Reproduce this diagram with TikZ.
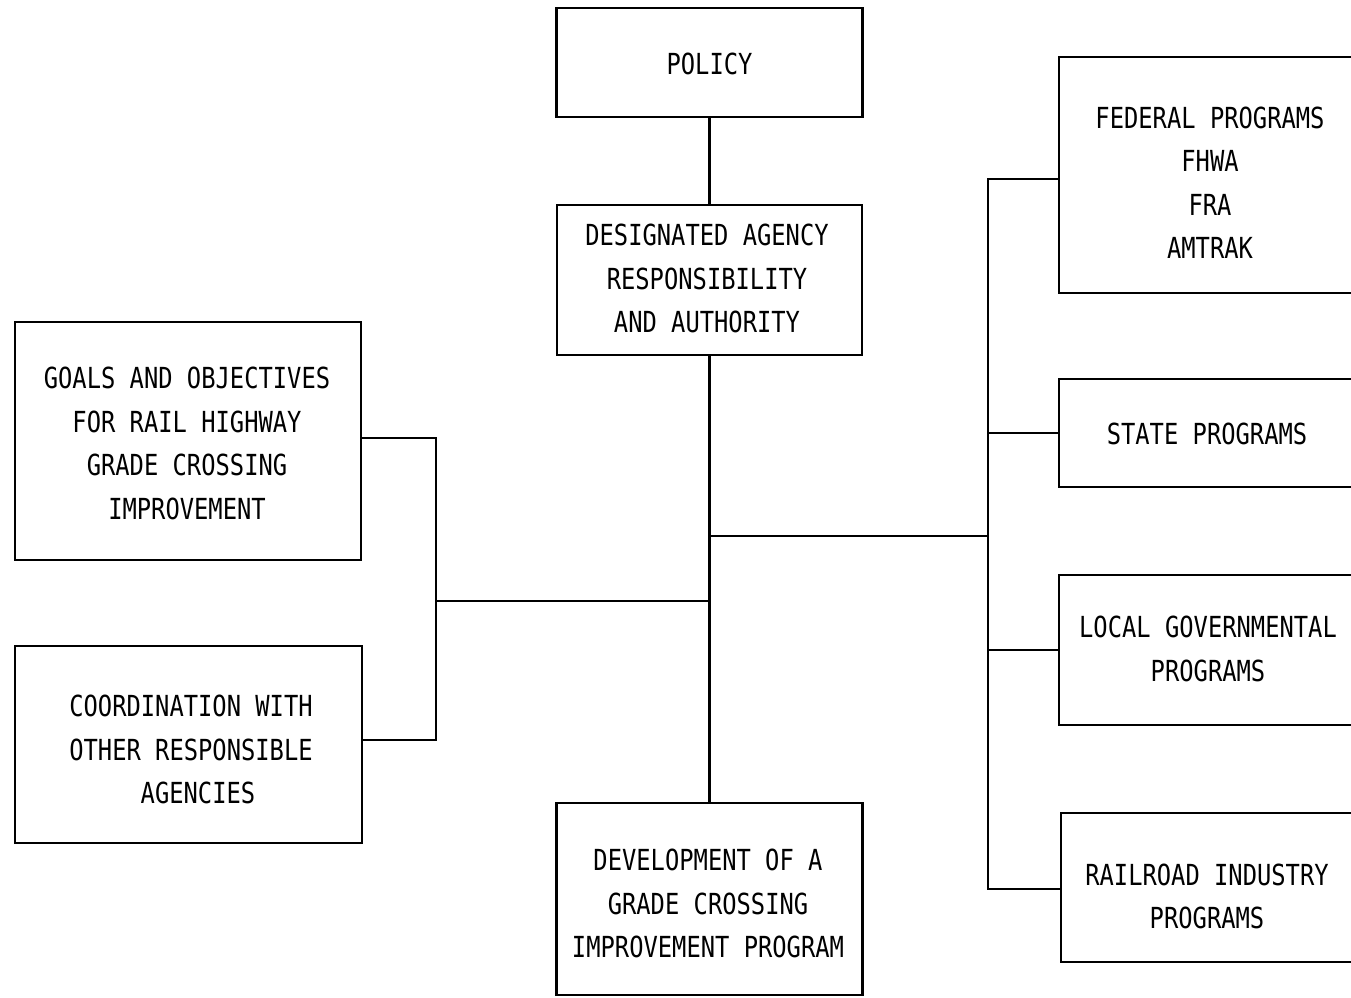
\documentclass[tikz,border=0pt]{standalone}
\usepackage{fontspec}
\newfontfamily\diafont[FakeStretch=0.82]{DejaVu Sans Mono}
\begin{document}
\begin{tikzpicture}[x=1pt,y=-1pt,
  box/.style={draw, line width=2.6pt, inner sep=0pt, outer sep=0pt},
  txt/.style={inner sep=0pt, align=center, font=\diafont\fontsize{29}{43.5}\selectfont},
  link/.style={line width=2.6pt}]
\useasboundingbox (0,0) rectangle (1351,997);
\clip (0,0) rectangle (1351,997);
% boxes
\node[box, minimum width=306pt, minimum height=109pt] (policy) at (709.5,62.5) {};
\node[box, minimum width=305pt, minimum height=150pt] (desig) at (709.5,280) {};
\node[box, minimum width=306pt, minimum height=192pt] (dev) at (709.5,899) {};
\node[box, minimum width=346pt, minimum height=238pt] (goals) at (188,441) {};
\node[box, minimum width=347pt, minimum height=197pt] (coord) at (188.5,744.5) {};
\node[box, minimum width=298pt, minimum height=236pt] (fed) at (1208,175) {};
\node[box, minimum width=298pt, minimum height=108pt] (state) at (1208,433) {};
\node[box, minimum width=298pt, minimum height=150pt] (local) at (1208,650) {};
\node[box, minimum width=298pt, minimum height=149pt] (rail) at (1210,887.5) {};
% texts
\node[txt] (policyt) at (709.5,64) {POLICY};
\node[txt] (desigt) at (707,278.5) {DESIGNATED AGENCY\\RESPONSIBILITY\\AND AUTHORITY};
\node[txt] (devt) at (708,903.5) {DEVELOPMENT OF A\\GRADE CROSSING\\IMPROVEMENT PROGRAM};
\node[txt] (goalst) at (187,443.5) {GOALS AND OBJECTIVES\\FOR RAIL HIGHWAY\\GRADE CROSSING\\IMPROVEMENT};
\node[txt] (coordt) at (191,749.5) {COORDINATION WITH\\OTHER RESPONSIBLE\\\hspace*{14pt}AGENCIES};
\node[txt] (fedt) at (1210,182.5) {FEDERAL PROGRAMS\\FHWA\\FRA\\AMTRAK};
\node[txt] (statet) at (1207,434) {STATE PROGRAMS};
\node[txt] (localt) at (1208,649) {LOCAL GOVERNMENTAL\\PROGRAMS};
\node[txt] (railt) at (1207,896.5) {RAILROAD INDUSTRY\\PROGRAMS};
% connectors
\coordinate (lj) at (436,601);
\coordinate (rj) at (988,536);
\draw[link] (policy.south) -- (desig.north);
\draw[link] (desig.south) -- (dev.north);
\draw[link] ([yshift=3pt]goals.east) -| (lj) |- ([yshift=4.5pt]coord.east);
\draw[link] (lj) -- (lj -| desig.south);
\draw[link] ([yshift=-4pt]fed.west) -| (rj) |- ([yshift=-1.5pt]rail.west);
\draw[link] (state.west) -- (state.west -| rj);
\draw[link] (local.west) -- (local.west -| rj);
\draw[link] (rj) -- (rj -| desig.south);
\end{tikzpicture}
\end{document}
